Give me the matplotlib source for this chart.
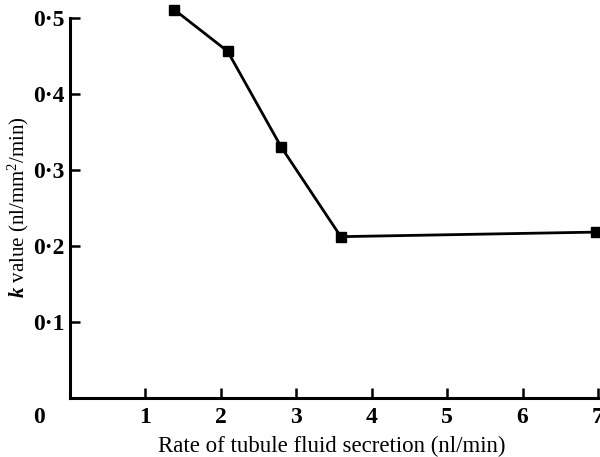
import matplotlib
matplotlib.use("Agg")
import matplotlib.pyplot as plt

rate = [1.38, 2.09, 2.80, 3.59, 6.97]
k_value = [0.511, 0.456, 0.330, 0.212, 0.218]
xticks = [1, 2, 3, 4, 5, 6, 7]
yticks = [0.1, 0.2, 0.3, 0.4, 0.5]
ytick_labels = ["0·1", "0·2", "0·3", "0·4", "0·5"]

plt.rcParams['font.family'] = ['Liberation Serif', 'DejaVu Serif']
plt.rcParams['mathtext.fontset'] = 'custom'
plt.rcParams['mathtext.rm'] = 'Liberation Serif'
plt.rcParams['mathtext.it'] = 'Liberation Serif:italic:bold'

fig = plt.figure(figsize=(6.0, 4.57), dpi=100)
ax = fig.add_axes([70/600, 59.3/457, 528/600, 395/457])

ax.plot(rate, k_value, color='black', lw=2.0, marker='s', markersize=7.6, clip_on=False)

ax.set_xlim(0, 7)
ax.set_ylim(0, 0.52)
ax.spines['top'].set_visible(False)
ax.spines['right'].set_visible(False)
for s in ('left', 'bottom'):
    ax.spines[s].set_linewidth(2.2)
ax.spines['left'].set_bounds(0, 0.5)

ax.set_xticks(xticks)
ax.set_xticklabels([str(t) for t in xticks], fontsize=17, fontweight='bold')
ax.set_yticks(yticks)
ax.set_yticklabels(ytick_labels, fontsize=17, fontweight='bold')
ax.tick_params(direction='in', length=7, width=1.8)
ax.tick_params(axis='y', pad=4)
ax.tick_params(axis='x', pad=7)

ax.annotate("0", xy=(0, 0), xycoords='data', xytext=(-22, -7), textcoords='offset points',
            fontsize=17, fontweight='bold', ha='center', va='top')

fig.text(332/600, 1 - 452/457, "Rate of tubule fluid secretion (nl/min)",
         fontsize=16.5, ha='center', va='baseline')
fig.text(18/600, 1 - 207/457, r"$k$ value (nl/mm$^2$/min)",
         fontsize=15, ha='center', va='center', rotation=90)

fig.savefig("out.png", dpi=100)
